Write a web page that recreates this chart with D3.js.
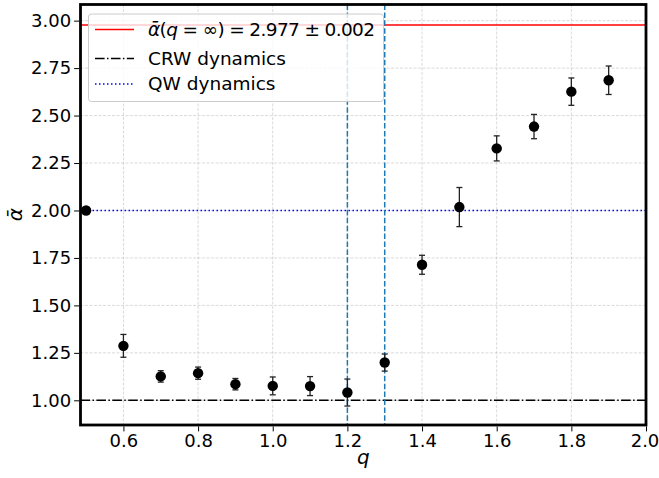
<!DOCTYPE html>
<html>
<head>
<meta charset="utf-8">
<script src="https://cdn.jsdelivr.net/npm/d3@7"></script>
<style>
  html, body { margin: 0; padding: 0; background: #fff; }
  svg { display: block; font-family: "DejaVu Sans", sans-serif; }
</style>
</head>
<body>
<svg id="chart" width="659" height="478"></svg>
<script>
// Mean exponent alpha-bar versus q, with standard errors
const qValues = [0.5, 0.6, 0.7, 0.8, 0.9, 1.0, 1.1, 1.2, 1.3, 1.4, 1.5, 1.6, 1.7, 1.8, 1.9];
const alphaMean = [2.0, 1.287, 1.126, 1.143, 1.085, 1.076, 1.075, 1.041, 1.199, 1.714, 2.018, 2.327, 2.442, 2.626, 2.686];
const alphaErr = [0.0, 0.06, 0.03, 0.032, 0.03, 0.047, 0.05, 0.071, 0.045, 0.05, 0.103, 0.066, 0.064, 0.072, 0.075];

// Reference levels
const alphaInf = 2.977;
const crwLevel = 1.0;
const qwLevel = 2.0;
const transitionQ = [1.2, 1.3];

const xTicks = [0.6, 0.8, 1.0, 1.2, 1.4, 1.6, 1.8, 2.0];
const yTicks = [1.0, 1.25, 1.5, 1.75, 2.0, 2.25, 2.5, 2.75, 3.0];

const legendLabels = ["CRW dynamics", "QW dynamics"];

const svg = d3.select("#chart");
const plot = { left: 80.5, right: 646, top: 4.5, bottom: 425 };

const x = d3.scaleLinear().domain([0.485, 2.0]).range([plot.left, plot.right]);
const y = d3.scaleLinear().domain([0.87, 3.085]).range([plot.bottom, plot.top]);

// Grid
const grid = svg.append("g");
grid.selectAll(".gx").data(xTicks).join("line")
  .attr("x1", d => x(d)).attr("x2", d => x(d))
  .attr("y1", plot.top).attr("y2", plot.bottom)
  .attr("stroke", "#b0b0b0").attr("stroke-opacity", 0.6)
  .attr("stroke-width", 0.8).attr("stroke-dasharray", "3,1.5");
grid.selectAll(".gy").data(yTicks).join("line")
  .attr("x1", plot.left).attr("x2", plot.right)
  .attr("y1", d => y(d)).attr("y2", d => y(d))
  .attr("stroke", "#b0b0b0").attr("stroke-opacity", 0.6)
  .attr("stroke-width", 0.8).attr("stroke-dasharray", "3,1.5");

// Horizontal reference lines
svg.append("line")
  .attr("x1", plot.left).attr("x2", plot.right)
  .attr("y1", y(alphaInf)).attr("y2", y(alphaInf))
  .attr("stroke", "red").attr("stroke-width", 1.5);
svg.append("line")
  .attr("x1", plot.left).attr("x2", plot.right)
  .attr("y1", y(crwLevel)).attr("y2", y(crwLevel))
  .attr("stroke", "black").attr("stroke-width", 1.5)
  .attr("stroke-dasharray", "9.6,2.4,1.5,2.4");
svg.append("line")
  .attr("x1", plot.left).attr("x2", plot.right)
  .attr("y1", y(qwLevel)).attr("y2", y(qwLevel))
  .attr("stroke", "blue").attr("stroke-width", 1.5)
  .attr("stroke-dasharray", "1.5,2.5");

// Vertical transition markers
svg.selectAll(".vline").data(transitionQ).join("line")
  .attr("x1", d => x(d)).attr("x2", d => x(d))
  .attr("y1", plot.top).attr("y2", plot.bottom)
  .attr("stroke", "#1f77b4").attr("stroke-width", 1.5)
  .attr("stroke-dasharray", "5.5,2.4");

// Error bars and points
const pts = qValues.map((q, i) => ({ q, a: alphaMean[i], e: alphaErr[i] }));
const eb = svg.append("g").attr("stroke", "#222").attr("stroke-width", 1.3);
const withErr = pts.filter(d => d.e > 0);
eb.selectAll(".bar").data(withErr).join("line")
  .attr("x1", d => x(d.q)).attr("x2", d => x(d.q))
  .attr("y1", d => y(d.a - d.e)).attr("y2", d => y(d.a + d.e));
eb.selectAll(".capT").data(withErr).join("line")
  .attr("x1", d => x(d.q) - 3).attr("x2", d => x(d.q) + 3)
  .attr("y1", d => y(d.a + d.e)).attr("y2", d => y(d.a + d.e));
eb.selectAll(".capB").data(withErr).join("line")
  .attr("x1", d => x(d.q) - 3).attr("x2", d => x(d.q) + 3)
  .attr("y1", d => y(d.a - d.e)).attr("y2", d => y(d.a - d.e));
svg.selectAll(".pt").data(pts).join("circle")
  .attr("cx", d => x(d.q)).attr("cy", d => y(d.a)).attr("r", 5.2)
  .attr("fill", "black");

// Spines
svg.append("rect")
  .attr("x", plot.left).attr("y", plot.top)
  .attr("width", plot.right - plot.left).attr("height", plot.bottom - plot.top)
  .attr("fill", "none").attr("stroke", "black").attr("stroke-width", 2.8);

// Axes
const xAxis = d3.axisBottom(x).tickValues(xTicks).tickFormat(d3.format(".1f"))
  .tickSizeInner(5).tickSizeOuter(0).tickPadding(3);
const gx = svg.append("g").attr("transform", `translate(0,${plot.bottom + 1.4})`).call(xAxis);
gx.select(".domain").remove();
gx.selectAll("text").attr("font-size", 18).attr("font-family", "DejaVu Sans").attr("fill", "#000");
// keep the last label inside the page edge
gx.selectAll("text").filter(d => d === 2.0).attr("x", -1.5);

const yAxis = d3.axisLeft(y).tickValues(yTicks).tickFormat(d3.format(".2f"))
  .tickSizeInner(5).tickSizeOuter(0).tickPadding(3);
const gy = svg.append("g").attr("transform", `translate(${plot.left - 1.4},0)`).call(yAxis);
gy.select(".domain").remove();
gy.selectAll("text").attr("font-size", 18).attr("font-family", "DejaVu Sans").attr("fill", "#000");

// Axis labels
svg.append("text")
  .attr("x", (plot.left + plot.right) / 2).attr("y", 464)
  .attr("text-anchor", "middle").attr("font-size", 20).attr("font-style", "italic")
  .text("q");
svg.append("text")
  .attr("transform", `translate(22,${(plot.top + plot.bottom) / 2}) rotate(-90)`)
  .attr("text-anchor", "middle").attr("font-size", 20).attr("font-style", "italic")
  .text("ᾱ");

// Legend
const lg = svg.append("g");
lg.append("rect")
  .attr("x", 88.5).attr("y", 14).attr("width", 295).attr("height", 87.5)
  .attr("rx", 3).attr("fill", "white").attr("fill-opacity", 0.8)
  .attr("stroke", "#cccccc").attr("stroke-width", 1);
const rows = [
  { y: 29.5, stroke: "red", dash: null },
  { y: 58.5, stroke: "black", dash: "9.6,2.4,1.5,2.4" },
  { y: 84, stroke: "blue", dash: "1.5,2.5" }
];
rows.forEach(r => {
  lg.append("line")
    .attr("x1", 95).attr("x2", 134).attr("y1", r.y).attr("y2", r.y)
    .attr("stroke", r.stroke).attr("stroke-width", 1.5)
    .attr("stroke-dasharray", r.dash);
});
const t0 = lg.append("text").attr("x", 148).attr("y", 29.5).attr("dy", "0.35em")
  .attr("font-size", 18.5)
  .attr("textLength", 227).attr("lengthAdjust", "spacing");
t0.append("tspan").attr("font-style", "italic").text("ᾱ");
t0.append("tspan").text("(");
t0.append("tspan").attr("font-style", "italic").text("q");
t0.append("tspan").text(" = ∞) = " + alphaInf.toFixed(3) + " ± 0.002");
lg.append("text").attr("x", 148).attr("y", 58.5).attr("dy", "0.35em")
  .attr("font-size", 18.5).text(legendLabels[0]);
lg.append("text").attr("x", 148).attr("y", 84).attr("dy", "0.35em")
  .attr("font-size", 18.5).text(legendLabels[1]);
</script>
</body>
</html>
